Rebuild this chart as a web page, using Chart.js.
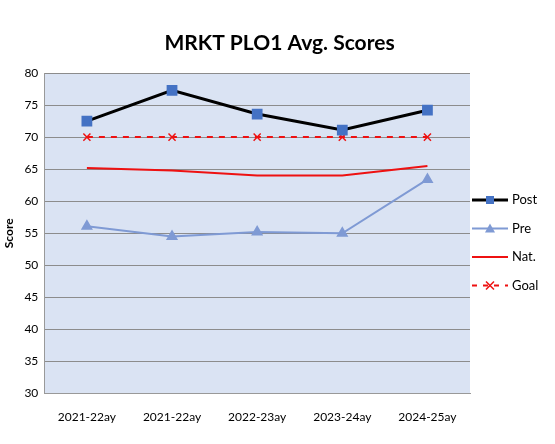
<!DOCTYPE html>
<html><head><meta charset="utf-8">
<script src="https://cdn.jsdelivr.net/npm/chart.js@4"></script>
<style>body{margin:0;background:#fff}#wrap{width:555px;height:444px}</style>
</head><body><div id="wrap"><canvas id="c"></canvas></div>
<script>
// DONNEES
const labels = ['2021-22ay', '2021-22ay', '2022-23ay', '2023-24ay', '2024-25ay'];
const postVals = [72.5, 77.3, 73.6, 71.1, 74.2];
const preVals = [56.1, 54.5, 55.2, 55.0, 63.4];
const natVals = [65.2, 64.8, 64.0, 64.0, 65.5];
const goalVals = [70, 70, 70, 70, 70];

const FONT = 'Lato, "Open Sans", sans-serif';

// fond bleu de la zone de tracé, titre centré sur le canvas + légende à droite
const plotBg = {
    id: 'plotBg',
    beforeDraw(chart) {
        const a = chart.chartArea, ctx = chart.ctx;
        ctx.save();
        ctx.fillStyle = '#dae3f3';
        ctx.fillRect(a.left, a.top, a.right - a.left, a.bottom - a.top);
        ctx.restore();
    },
    afterDraw(chart) {
        const ctx = chart.ctx;
        ctx.save();
        ctx.fillStyle = '#000'; ctx.font = 'bold 21px ' + FONT;
        ctx.textAlign = 'center'; ctx.textBaseline = 'middle';
        ctx.fillText('MRKT PLO1 Avg. Scores', chart.width / 2 + 2, 43);
        ctx.textAlign = 'left';
        const items = [
            { t: 'Post', c: '#000000', w: 3, dash: [], mk: 'rect', mc: '#4472c4' },
            { t: 'Pre', c: '#7f9ad4', w: 2, dash: [], mk: 'triangle', mc: '#7f9ad4' },
            { t: 'Nat.', c: '#ee1111', w: 2, dash: [], mk: null },
            { t: 'Goal', c: '#ee1111', w: 2, dash: [5, 6], mk: 'cross', mc: '#ee1111' }
        ];
        items.forEach((it, i) => {
            const y = 200 + i * 28.5, x0 = 472, x1 = 508;
            ctx.strokeStyle = it.c; ctx.lineWidth = it.w; ctx.setLineDash(it.dash);
            ctx.beginPath(); ctx.moveTo(x0, y); ctx.lineTo(x1, y); ctx.stroke();
            ctx.setLineDash([]);
            const cx = (x0 + x1) / 2;
            if (it.mk === 'rect') { ctx.fillStyle = it.mc; ctx.fillRect(cx - 4, y - 4, 8, 8); }
            if (it.mk === 'triangle') { ctx.fillStyle = it.mc; ctx.beginPath(); ctx.moveTo(cx, y - 5); ctx.lineTo(cx + 5, y + 4); ctx.lineTo(cx - 5, y + 4); ctx.fill(); }
            if (it.mk === 'cross') { ctx.strokeStyle = it.mc; ctx.lineWidth = 1.5; ctx.beginPath(); ctx.moveTo(cx - 4, y - 4); ctx.lineTo(cx + 4, y + 4); ctx.moveTo(cx + 4, y - 4); ctx.lineTo(cx - 4, y + 4); ctx.stroke(); }
            ctx.fillStyle = '#000'; ctx.font = '13px ' + FONT; ctx.textBaseline = 'middle';
            ctx.fillText(it.t, x1 + 4, y);
        });
        ctx.restore();
    }
};

new Chart(document.getElementById('c'), {
    type: 'line',
    data: {
        labels: labels,
        datasets: [
            { label: 'Post', data: postVals, borderColor: '#000000', borderWidth: 3, pointStyle: 'rect', pointRadius: 5.5, pointBackgroundColor: '#4472c4', pointBorderColor: '#4472c4' },
            { label: 'Pre', data: preVals, borderColor: '#7f9ad4', borderWidth: 2, pointStyle: 'triangle', pointRadius: 5, pointBackgroundColor: '#7f9ad4', pointBorderColor: '#7f9ad4' },
            { label: 'Nat.', data: natVals, borderColor: '#ee1111', borderWidth: 2, pointRadius: 0 },
            { label: 'Goal', data: goalVals, borderColor: '#ee1111', borderWidth: 2, borderDash: [6, 6], pointStyle: 'crossRot', pointRadius: 5, pointBorderColor: '#ee1111', pointBorderWidth: 1.5 }
        ]
    },
    options: {
        responsive: true, maintainAspectRatio: false, animation: false,
        layout: { padding: { left: 0, right: 85, top: 73, bottom: 12 } },
        plugins: {
            legend: { display: false },
            tooltip: { enabled: false },
            title: { display: false }
        },
        scales: {
            x: {
                offset: true,
                grid: { display: false },
                border: { color: '#999' },
                ticks: { color: '#000', font: { family: FONT, size: 12 }, maxRotation: 0, padding: 8 }
            },
            y: {
                min: 30, max: 80,
                ticks: { stepSize: 5, color: '#000', font: { family: FONT, size: 12 }, padding: 6 },
                grid: { color: '#8c8c8c', drawTicks: false },
                border: { color: '#999' },
                title: { display: true, text: 'Score', color: '#000', font: { family: FONT, size: 12, weight: 'bold' }, padding: 2 }
            }
        }
    },
    plugins: [plotBg]
});
</script>
</body></html>
